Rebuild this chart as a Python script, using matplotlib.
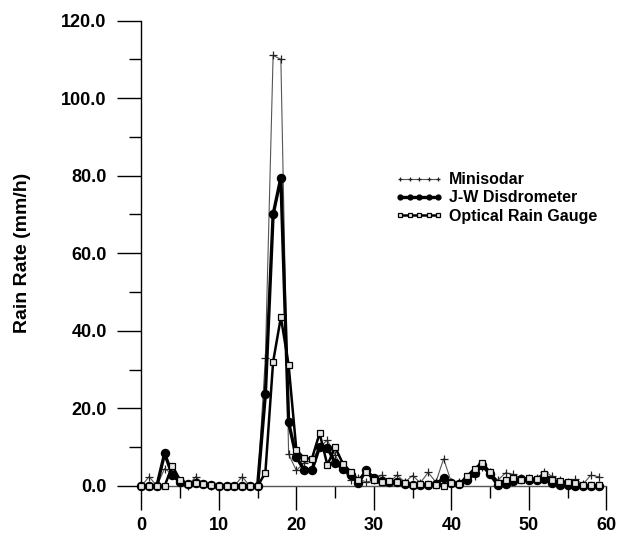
import numpy as np
import matplotlib
matplotlib.use('Agg')
import matplotlib.pyplot as plt
from matplotlib.ticker import MultipleLocator, FormatStrFormatter

plt.rcParams['font.family'] = ['Liberation Sans', 'DejaVu Sans']
plt.rcParams['font.weight'] = 'bold'

# sample index (0..59)
x = np.arange(60)

minisodar = [0, 2.4, 0, 4.5, 3.0, 0.5, 0, 2.4, 0.5, 0,
             0, 0, 0, 2.4, 0, 0, 33, 111, 110, 8.2,
             4.0, 6.0, 6.5, 10.0, 11.8, 8.0, 4.5, 1.5, 2.0, 1.0,
             1.5, 2.8, 1.0, 2.8, 1.0, 2.7, 0.8, 3.5, 1.0, 7.0,
             1.0, 1.0, 1.5, 2.5, 5.0, 3.5, 1.5, 3.4, 3.0, 2.0,
             2.0, 2.0, 3.7, 2.5, 1.5, 1.0, 1.7, 0.5, 2.8, 2.4]

jw_disdrometer = [0, 0, 0, 8.4, 2.8, 1.0, 0.5, 0.8, 0.5, 0.2,
                  0, 0, 0, 0, 0, 0, 23.6, 70, 79.5, 16.4,
                  7.4, 4.2, 4.0, 10.1, 9.9, 6.0, 4.5, 2.8, 0.7, 4.1,
                  2.0, 1.3, 1.0, 1.0, 0.5, 0.2, 0.2, 0.2, 0.5, 2.0,
                  0.8, 0.5, 1.5, 3.3, 5.3, 3.0, 0.2, 0.5, 1.2, 1.8,
                  1.5, 1.6, 1.8, 0.8, 0.2, 0.2, 0.1, 0, 0, 0]

optical_gauge = [0, 0, 0, 0, 5.2, 1.5, 0.5, 0.8, 0.5, 0.2,
                 0, 0, 0, 0, 0, 0, 3.4, 32, 43.5, 31.2,
                 9.3, 7.2, 7.0, 13.6, 5.4, 10.0, 5.8, 3.7, 1.5, 3.7,
                 1.5, 1.0, 1.2, 1.0, 0.8, 0.3, 0.5, 0.5, 0.3, 0.0,
                 0.8, 0.5, 2.5, 4.5, 6.0, 3.5, 0.8, 1.5, 2.0, 1.5,
                 2.0, 1.8, 3.0, 1.5, 1.2, 1.0, 0.8, 0.2, 0.2, 0.2]

fig = plt.figure(figsize=(6.2, 5.4), dpi=100)
ax = fig.add_axes([0.228, 0.1, 0.75, 0.862])

ax.plot(x, minisodar, color='#555555', lw=0.8, marker='+', ms=6, mew=0.9,
        mec='#222222', label='Minisodar', clip_on=False, zorder=2)
ax.plot(x, jw_disdrometer, color='black', lw=2.4, marker='o', ms=5.8,
        label='J-W Disdrometer', clip_on=False, zorder=3)
ax.plot(x, optical_gauge, color='black', lw=1.8, marker='s', ms=5, mew=0.9,
        mfc='#e6e6e6', mec='black', label='Optical Rain Gauge', clip_on=False, zorder=4)

ax.set_xlim(0, 60)
ax.set_ylim(0, 120)
ax.spines['top'].set_visible(False)
ax.spines['right'].set_visible(False)
ax.spines['left'].set_linewidth(1.0)
ax.spines['bottom'].set_linewidth(1.0)
ax.spines['bottom'].set_color('#555555')

ax.xaxis.set_major_locator(MultipleLocator(10))
ax.xaxis.set_minor_locator(MultipleLocator(5))
ax.yaxis.set_major_locator(MultipleLocator(20))
ax.yaxis.set_minor_locator(MultipleLocator(10))
ax.yaxis.set_major_formatter(FormatStrFormatter('%.1f'))
ax.tick_params(axis='both', which='major', direction='out', length=17, width=1.0,
               labelsize=13)
ax.tick_params(axis='y', which='major', pad=8)
ax.tick_params(axis='x', which='major', pad=5)
ax.tick_params(axis='both', which='minor', direction='out', length=8.5, width=1.0)

ax.set_ylabel('Rain Rate (mm/h)', fontsize=14, fontweight='bold', labelpad=22)

leg = ax.legend(loc='upper left', bbox_to_anchor=(0.515, 0.705), frameon=False,
                numpoints=5, markerscale=0.6, handlelength=3.0, handletextpad=0.35,
                labelspacing=0.2, fontsize=11.5)
for t in leg.get_texts():
    t.set_fontweight('bold')

fig.savefig('out.png', dpi=100)
